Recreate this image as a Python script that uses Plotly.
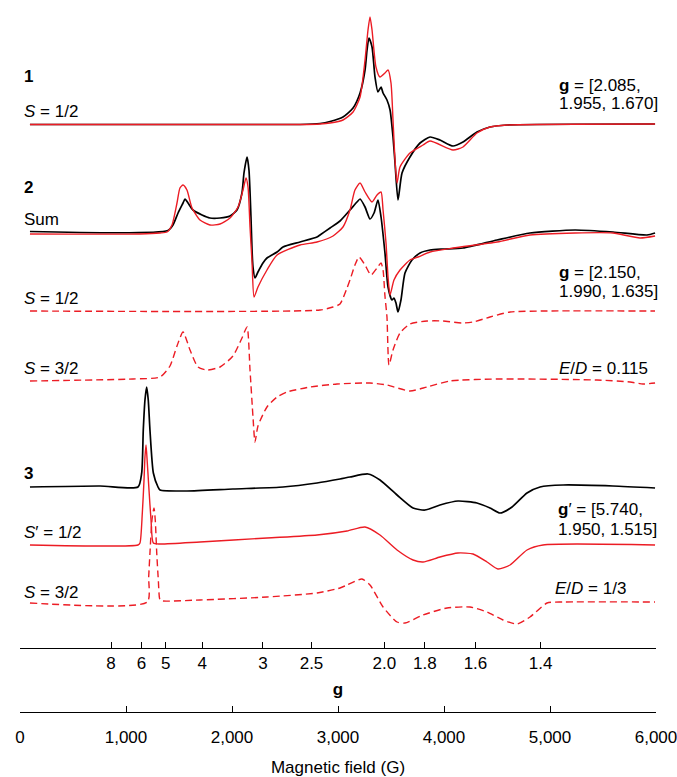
import numpy as np
import plotly.graph_objects as go

# ---------------- data (field in G, intensity in arbitrary units) ----------------
MW_FREQ_GHZ = 9.622          # X-band frequency used for the g scale
G_CONST = 714.477            # B[G] = G_CONST * nu[GHz] / g

g_ticks = [8, 6, 5, 4, 3, 2.5, 2.0, 1.8, 1.6, 1.4]
g_tick_text = ["8", "6", "5", "4", "3", "2.5", "2.0", "1.8", "1.6", "1.4"]
field_ticks = [0, 1000, 2000, 3000, 4000, 5000, 6000]
field_tick_text = ["0", "1,000", "2,000", "3,000", "4,000", "5,000", "6,000"]

# Complex 1 : experiment (black) and S = 1/2 simulation (red)
c1_exp_field = [94, 2642, 2830, 2925, 3047, 3142, 3208, 3255, 3274, 3292, 3321, 3349, 3377, 3406, 3425,
                3462, 3491, 3519, 3538, 3566, 3604, 3679, 3774, 3868, 3962, 4085, 4179, 4311, 4434, 4594, 5991]
c1_exp_int = [0, 0, 1, 3, 7.5, 16.5, 31.5, 54.5, 74.5, 86.5, 77.5, 47.5, 32.5, 37.5, 31.5,
              24.5, 14.5, -12.5, -38.5, -75.5, -48.5, -32.5, -18.5, -12.5, -15.5, -21.5, -17.5, -7.5, -2.5, -0.5, 0.5]
c1_sim_field = [94, 2642, 2830, 2925, 3047, 3142, 3208, 3255, 3283, 3302, 3321, 3358, 3396, 3443, 3472,
                3500, 3519, 3538, 3557, 3585, 3679, 3802, 3868, 4085, 4179, 4311, 4434, 4594, 5991]
c1_sim_int = [0, 0, 0.5, 1.5, 4.5, 12.5, 27.5, 64.5, 94.5, 107.5, 94.5, 57.5, 47.5, 51.5, 54.5,
              41.5, 4.5, -35.5, -58.5, -42.5, -28.5, -20.5, -16.5, -25.5, -22.5, -8.5, -2.5, -0.5, 0.5]

# Complex 2 : experiment (black) and sum of simulations (red)
c2_exp_field = [94, 1396, 1443, 1491, 1538, 1557, 1585, 1632, 1717, 1792,
                1887, 1981, 2047, 2094, 2113, 2142, 2160, 2179, 2189, 2198,
                2217, 2245, 2292, 2330, 2425, 2481, 2642, 2802, 2830, 2925,
                3019, 3113, 3179, 3208, 3255, 3302, 3340, 3377, 3406, 3443,
                3472, 3509, 3528, 3547, 3566, 3594, 3632, 3698, 3774, 3868,
                3991, 4179, 4500, 4811, 5236, 5594, 5915, 5991]
c2_exp_int = [0.5, 1.5, 7, 19, 29, 33, 29, 22, 17, 14,
              14, 16, 22, 39, 59, 75, 62, 15, -18, -35,
              -46, -40, -31, -26, -20, -15, -10, -5, -3, 4,
              11, 22, 30, 33, 25, 13, 19, 32, 15, -21,
              -55, -68, -66, -71, -80, -68, -41, -28, -21, -18,
              -17, -16, -8, -1, 2, 0, -3, -1]
c2_sum_field = [94, 1132, 1321, 1387, 1434, 1481, 1509, 1538, 1575, 1623,
                1698, 1792, 1887, 1981, 2057, 2104, 2132, 2151, 2170, 2189,
                2208, 2245, 2330, 2425, 2642, 2802, 2953, 3047, 3113, 3160,
                3208, 3255, 3321, 3368, 3406, 3425, 3453, 3472, 3491, 3528,
                3585, 3679, 3755, 3868, 4085, 4500, 4811, 5236, 5594, 5849, 5991]
c2_sum_int = [-2, -2, -1, 0, 7, 29, 44, 47, 42, 24,
              12, 7, 8, 14, 25, 42, 54, 45, 5, -30,
              -65, -55, -38, -23, -13, -10, -4, 5, 22, 42,
              49, 40, 30, 37, 40, 22, -11, -45, -63, -48,
              -38, -28, -25, -20, -16, -10, -3, -1, -1, -6, -4]
# Complex 2 components
c2_s12_field = [94, 2830, 2953, 3019, 3085, 3113, 3160, 3198, 3255, 3311,
                3368, 3406, 3425, 3443, 3462, 3481, 3519, 3585, 3679, 3840,
                3991, 4170, 4274, 4434, 4623, 4972, 5991]
c2_s12_int = [0, 1, 4, 7, 23, 31, 46, 54, 46, 36,
              43, 48, 41, 15, -6, -54, -39, -22, -13, -10,
              -10, -12, -11, -6, -1, 0, 0]
c2_s32_field = [94, 1066, 1321, 1415, 1481, 1538, 1604, 1679, 1764, 1887,
                2009, 2094, 2142, 2170, 2198, 2217, 2245, 2330, 2425, 2519,
                2736, 2991, 3302, 3462, 3679, 3840, 4057, 4500, 5443, 5755, 5877, 5991]
c2_s32_int = [-1, 1, 3, 14, 34, 48, 30, 13, 10, 13,
              24, 42, 53, 10, -37, -62, -46, -27, -17, -12,
              -7, -4, -3, -5, -11, -7, -1, 1, 0, -2, -4, -3]

# Complex 3 : experiment (black) and two simulations (red)
c3_exp_field = [94, 755, 1113, 1148, 1163, 1179, 1195, 1210, 1226, 1258,
                1302, 1321, 1575, 2009, 2481, 2802, 3019, 3113, 3283, 3396,
                3557, 3708, 3821, 3962, 4132, 4311, 4434, 4528, 4642, 4783,
                4906, 5123, 5594, 5991]
c3_exp_int = [1, 2, 1, 15, 58, 88, 101, 88, 58, 15,
              1, -2, -3, -1, 1, 5, 9, 11, 14, 8,
              -7, -20, -22, -17, -13, -15, -20, -25, -19, -5,
              1, 3, 2, 0]
c3_s12_field = [94, 1113, 1132, 1154, 1170, 1179, 1189, 1201, 1217, 1236,
                1258, 1321, 1698, 2330, 2802, 3085, 3255, 3396, 3557, 3708,
                3802, 3962, 4132, 4274, 4406, 4509, 4623, 4783, 4934, 5991]
c3_s12_int = [0, 0, 2, 32, 65, 88, 100, 82, 55, 25,
              2, 1, 3, 7, 10, 14, 18, 10, -5, -15,
              -17, -12, -8, -9, -17, -24, -20, -5, 0, 0]
c3_s32_field = [94, 1201, 1214, 1226, 1245, 1264, 1276, 1290, 1305, 1321,
                1349, 1698, 2330, 2802, 3019, 3085, 3226, 3302, 3425, 3557,
                3632, 3802, 4028, 4245, 4406, 4557, 4689, 4811, 4972, 5123, 5991]
c3_s32_int = [-1, 0, 25, 49, 82, 94, 82, 49, 22, 2,
              1, 2, 5, 9, 14, 17, 23, 17, -5, -20,
              -21, -13, -6, -5, -10, -18, -22, -15, -1, 0, 0]

# ---------------- layout helpers (pixel geometry) ----------------
W, H = 677, 777
ML, MR = 20, 21
PLOT_BOTTOM = 648            # g-axis line (pixel row)
FIELD_AXIS = 712             # field axis line (pixel row)

def paper_x(px):
    return (px - ML) / (W - ML - MR)

def paper_y(py):
    return (H - py) / H

RED = "#ec1c24"
BLACK = "#000000"

# vertical offsets (pixel rows of each baseline)
offsets = {"c1": 124.5, "c2": 232, "c2_s12": 311, "c2_s32": 380,
           "c3": 488, "c3_s12": 545, "c3_s32": 602}

fig = go.Figure()

def add(field, inten, off, color, width, dash=None):
    y = np.array(inten, dtype=float) - off
    fig.add_trace(go.Scatter(
        x=field, y=y, mode="lines",
        line=dict(color=color, width=width, dash=dash, shape="spline", smoothing=0.6),
        hoverinfo="skip", showlegend=False))

add(c1_exp_field, c1_exp_int, offsets["c1"], BLACK, 1.7)
add(c1_sim_field, c1_sim_int, offsets["c1"], RED, 1.4)
add(c2_exp_field, c2_exp_int, offsets["c2"], BLACK, 1.7)
add(c2_sum_field, c2_sum_int, offsets["c2"], RED, 1.4)
add(c2_s12_field, c2_s12_int, offsets["c2_s12"], RED, 1.4, "7px,4px")
add(c2_s32_field, c2_s32_int, offsets["c2_s32"], RED, 1.4, "7px,4px")
add(c3_exp_field, c3_exp_int, offsets["c3"], BLACK, 1.7)
add(c3_s12_field, c3_s12_int, offsets["c3_s12"], RED, 1.4)
add(c3_s32_field, c3_s32_int, offsets["c3_s32"], RED, 1.4, "7px,4px")

# dummy trace to activate the g axis
g_field_pos = [G_CONST * MW_FREQ_GHZ / g for g in g_ticks]
fig.add_trace(go.Scatter(x=[0, 6000], y=[None, None], xaxis="x2", yaxis="y",
                         mode="lines", showlegend=False, hoverinfo="skip"))

FONT = "Liberation Sans, Arial, Helvetica, sans-serif"
FS = 17

annots = []
def label(text, px, py, anchor="left"):
    annots.append(dict(text=text, x=paper_x(px), y=paper_y(py), xref="paper", yref="paper",
                       xanchor=anchor, yanchor="middle", showarrow=False,
                       font=dict(family=FONT, size=FS, color="black")))

label("<b>1</b>", 22, 77)
label("<i>S</i> = 1/2", 22, 112)
label("<b>2</b>", 22, 187)
label("Sum", 22, 219)
label("<i>S</i> = 1/2", 22, 298)
label("<i>S</i> = 3/2", 22, 368)
label("<b>3</b>", 22, 473)
label("<i>S</i>′ = 1/2", 22, 532)
label("<i>S</i> = 3/2", 22, 592)

label("<b>g</b> = [2.085,", 557, 85)
label("1.955, 1.670]", 557, 103)
label("<b>g</b> = [2.150,", 557, 272)
label("1.990, 1.635]", 557, 292)
label("<i>E</i>/<i>D</i> = 0.115", 557, 368)
label("<b>g</b>′ = [5.740,", 556, 509)
label("1.950, 1.515]", 556, 529)
label("<i>E</i>/<i>D</i> = 1/3", 553, 588)

fig.update_layout(
    width=W, height=H,
    margin=dict(l=ML, r=MR, t=0, b=0),
    paper_bgcolor="white", plot_bgcolor="white",
    font=dict(family=FONT, size=FS, color="black"),
    annotations=annots,
    xaxis=dict(range=[0, 6000], anchor="free", position=paper_y(FIELD_AXIS),
               tickvals=field_ticks, ticktext=field_tick_text,
               ticks="inside", ticklen=6, tickwidth=1, tickcolor="black",
               ticklabeloverflow="allow", ticklabelstandoff=10,
               showline=True, linecolor="black", linewidth=1,
               showgrid=False, zeroline=False,
               tickfont=dict(family=FONT, size=FS),
               title=dict(text="Magnetic field (G)", standoff=14,
                          font=dict(family=FONT, size=FS))),
    xaxis2=dict(range=[0, 6000], overlaying="x", anchor="y", side="bottom",
                tickvals=g_field_pos, ticktext=g_tick_text,
                ticks="inside", ticklen=6, tickwidth=1, tickcolor="black",
                ticklabeloverflow="allow",
                showline=True, linecolor="black", linewidth=1,
                showgrid=False, zeroline=False,
                tickfont=dict(family=FONT, size=FS),
                title=dict(text="<b>g</b>", standoff=10,
                           font=dict(family=FONT, size=FS))),
    yaxis=dict(domain=[paper_y(PLOT_BOTTOM), 1], range=[-PLOT_BOTTOM, 0],
               visible=False, showgrid=False, zeroline=False),
)

fig.write_html("out.html",
               config={"displayModeBar": False, "staticPlot": True},
               post_script="document.body.style.margin='0px';document.body.style.overflow='hidden';")
